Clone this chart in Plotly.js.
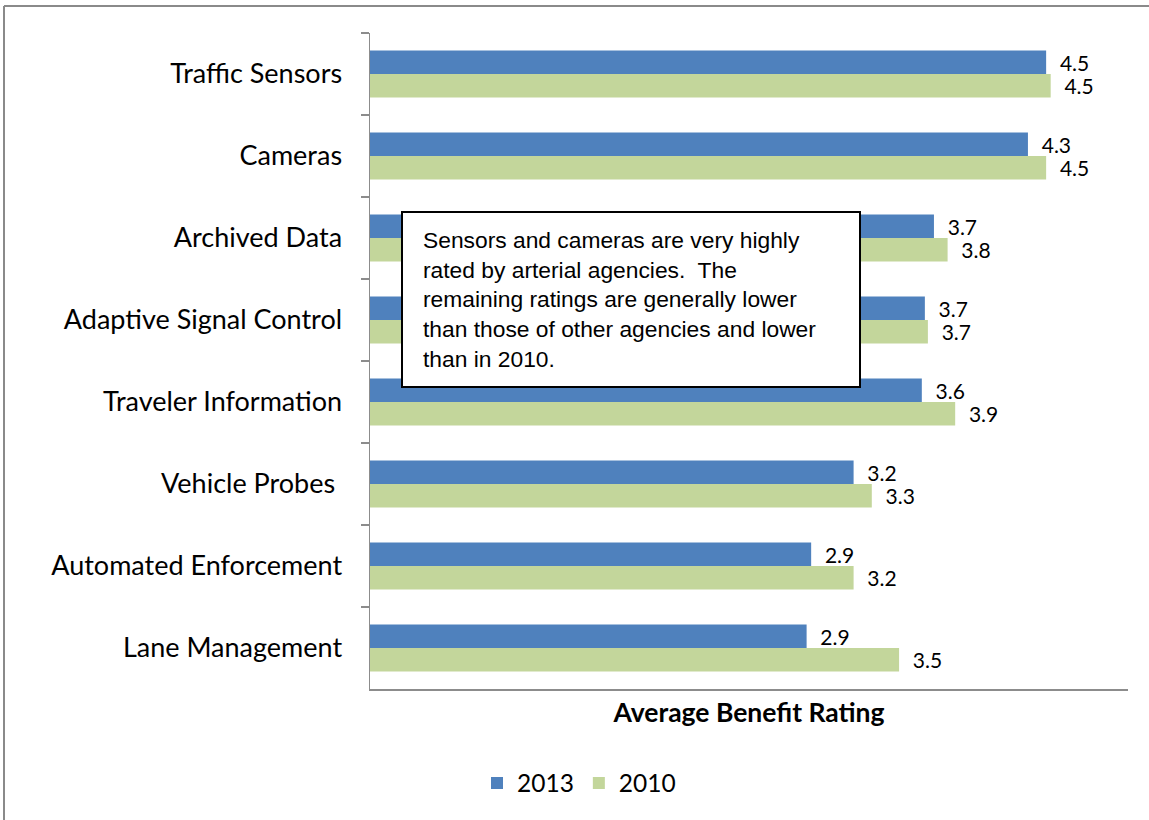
<!DOCTYPE html>
<html>
<head>
<meta charset="utf-8">
<script src="https://cdn.plot.ly/plotly-3.0.1.min.js"></script>
<style>html,body{margin:0;padding:0;background:#fff;}#chart{width:1149px;height:820px;}</style>
</head>
<body>
<div id="chart"></div>
<script>
const categories = ["Traffic Sensors", "Cameras", "Archived Data", "Adaptive Signal Control",
  "Traveler Information", "Vehicle Probes ", "Automated Enforcement", "Lane Management"];
const values2013 = [4.46, 4.34, 3.72, 3.66, 3.64, 3.19, 2.91, 2.88];
const values2010 = [4.49, 4.46, 3.81, 3.68, 3.86, 3.31, 3.19, 3.49];
const seriesNames = ["2013", "2010"];
const xTitle = "Average Benefit Rating";
const noteLines = ["Sensors and cameras are very highly", "rated by arterial agencies.  The",
  "remaining ratings are generally lower", "than those of other agencies and lower", "than in 2010."];

const W = 1149, H = 820;
const L = 370, R = 1128, T = 33, B = 689;
const px = x => (x - L) / (R - L);
const py = y => (B - y) / (B - T);

const labelFont = {family: "Lato, sans-serif", size: 21, color: "#000"};
const pad = "\u00a0\u00a0";

const traces = [
  {type: "bar", orientation: "h", name: seriesNames[0], y: categories, x: values2013,
   marker: {color: "#4F81BD", line: {width: 0}},
   texttemplate: pad + "%{x:.1f}", textposition: "outside", textfont: labelFont,
   constraintext: "none", cliponaxis: false, hoverinfo: "x+y"},
  {type: "bar", orientation: "h", name: seriesNames[1], y: categories, x: values2010,
   marker: {color: "#C3D69B", line: {width: 0}},
   texttemplate: pad + "%{x:.1f}", textposition: "outside", textfont: labelFont,
   constraintext: "none", cliponaxis: false, hoverinfo: "x+y"}
];

const layout = {
  width: W, height: H,
  margin: {l: L, r: W - R, t: T, b: H - B, autoexpand: false},
  paper_bgcolor: "#fff", plot_bgcolor: "#fff",
  font: {family: "Lato, sans-serif", color: "#000"},
  barmode: "group", bargap: 0.427, bargroupgap: 0,
  showlegend: true,
  legend: {orientation: "h", x: px(477), xanchor: "left", y: py(783), yanchor: "middle",
           font: {family: "Lato, sans-serif", size: 24.5, color: "#000"}, traceorder: "normal"},
  xaxis: {range: [0, 5], showticklabels: false, showgrid: false, zeroline: false,
          showline: true, linecolor: "#8c8c8c", linewidth: 1.5, ticks: "", fixedrange: true,
          title: {text: xTitle, standoff: 14, font: {family: "Lato, sans-serif", size: 26.5, color: "#000", weight: "bold"}}},
  yaxis: {type: "category", autorange: "reversed", showgrid: false, zeroline: false,
          showline: true, linecolor: "#8c8c8c", linewidth: 1.5,
          ticks: "outside", tickson: "boundaries", ticklen: 8, tickwidth: 1.5, tickcolor: "#8c8c8c",
          ticklabelstandoff: 21,
          tickfont: {family: "Lato, sans-serif", size: 27, color: "#000"}, fixedrange: true},
  shapes: [
    {type: "line", xref: "paper", yref: "paper", x0: px(4), x1: px(1160), y0: py(6), y1: py(6),
     line: {color: "#8a8a8a", width: 2}},
    {type: "line", xref: "paper", yref: "paper", x0: px(4), x1: px(4), y0: py(6), y1: py(830),
     line: {color: "#8a8a8a", width: 2}},
    {type: "rect", xref: "paper", yref: "paper", x0: px(402), x1: px(860), y0: py(387), y1: py(212),
     line: {color: "#000", width: 2}, fillcolor: "#fff", layer: "above"}
  ],
  annotations: [
    {xref: "paper", yref: "paper", x: px(422), y: py(226), xanchor: "left", yanchor: "top",
     align: "left", showarrow: false, borderpad: 0,
     text: noteLines.join("<br>"),
     font: {family: "Liberation Sans, Arial, sans-serif", size: 22.8, color: "#000"}}
  ]
};

Plotly.newPlot("chart", traces, layout, {displayModeBar: false, staticPlot: true});
</script>
</body>
</html>
